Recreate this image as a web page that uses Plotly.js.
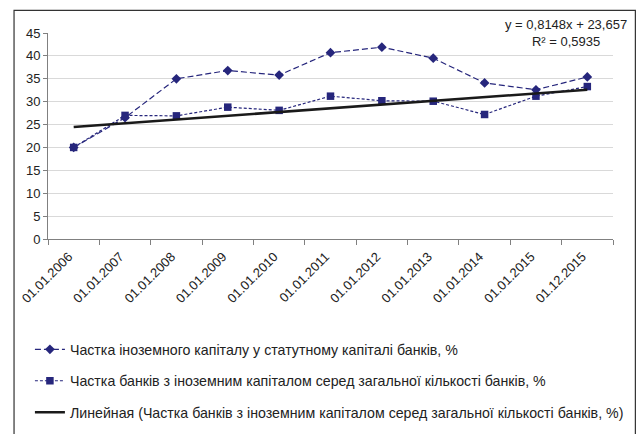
<!DOCTYPE html>
<html>
<head>
<meta charset="utf-8">
<script src="https://cdn.plot.ly/plotly-3.0.1.min.js"></script>
<style>html,body{margin:0;padding:0;background:#fff;}#chart{width:642px;height:434px;}</style>
</head>
<body>
<div id="chart"></div>
<script>
const categories = ["01.01.2006","01.01.2007","01.01.2008","01.01.2009","01.01.2010","01.01.2011","01.01.2012","01.01.2013","01.01.2014","01.01.2015","01.12.2015"];
const foreignCapitalShare = [20.0, 26.5, 35.0, 36.8, 35.8, 40.7, 41.9, 39.5, 34.1, 32.6, 35.4];
const foreignBanksShare = [20.0, 27.0, 26.9, 28.8, 28.1, 31.2, 30.2, 30.1, 27.2, 31.2, 33.3];
const trendSlope = 0.8148;
const trendIntercept = 23.657;
const trendR2 = 0.5935;
const seriesNames = [
  "Частка іноземного капіталу у статутному капіталі банків, %",
  "Частка банків з іноземним капіталом серед загальної кількості банків, %",
  "Линейная (Частка банків з іноземним капіталом серед загальної кількості банків, %)"
];

const trendX = [categories[0], categories[categories.length-1]];
const trendY = [trendIntercept + trendSlope*1, trendIntercept + trendSlope*categories.length];
const fmt = (v, d) => v.toFixed(d).replace('.', ',');

const navy = '#26267c';
const traces = [
  {x: categories, y: foreignCapitalShare, name: seriesNames[0], type: 'scatter', mode: 'lines+markers',
   legendgroup: 'a',
   line: {color: navy, width: 1.2, dash: '6px,3px'},
   marker: {symbol: 'diamond', size: 7.5, color: navy}},
  {x: categories, y: foreignBanksShare, name: seriesNames[1], type: 'scatter', mode: 'lines+markers',
   legendgroup: 'b',
   line: {color: navy, width: 1.2, dash: '3px,2px'},
   marker: {symbol: 'square', size: 7.5, color: navy}},
  {x: trendX, y: trendY, name: seriesNames[2], type: 'scatter', mode: 'lines',
   legendgroup: 'c',
   line: {color: '#1a1a1a', width: 2.5}}
];

const layout = {
  width: 642, height: 434,
  margin: {l: 48, r: 29, t: 33, b: 195, autoexpand: false},
  paper_bgcolor: '#fff', plot_bgcolor: '#fff',
  font: {family: 'Liberation Sans, Arial, sans-serif', size: 13, color: '#222'},
  xaxis: {type: 'category', tickson: 'boundaries', ticks: 'outside', ticklen: 5, tickcolor: '#808080',
    showline: true, linecolor: '#808080', linewidth: 1, showgrid: false, tickangle: -45,
    ticklabelshift: -5, ticklabelstandoff: 4,
    tickfont: {size: 13, color: '#222'}, range: [-0.5, categories.length - 0.5], zeroline: false},
  yaxis: {range: [0, 45], dtick: 5, ticks: 'outside', ticklen: 4, tickcolor: '#808080',
    showline: true, linecolor: '#808080', linewidth: 1, gridcolor: '#d9d9d9', gridwidth: 1,
    zeroline: false, tickfont: {size: 13, color: '#222'}},
  showlegend: true,
  legend: {x: -0.032, y: -0.459, xanchor: 'left', yanchor: 'top', orientation: 'v',
    tracegroupgap: 10, font: {size: 14.2, color: '#222', family: 'Liberation Sans, Arial, sans-serif'},
    bgcolor: 'rgba(0,0,0,0)'},
  annotations: [{
    xref: 'paper', yref: 'paper', x: 0.9176, y: 1.0, xanchor: 'center', yanchor: 'middle',
    text: 'y = ' + fmt(trendSlope, 4) + 'x + ' + fmt(trendIntercept, 3) + '<br>R² = ' + fmt(trendR2, 4),
    showarrow: false, align: 'center', font: {size: 13, color: '#222'}
  }],
  shapes: [{type: 'rect', xref: 'paper', yref: 'paper', x0: -0.0601, x1: 1.0396, y0: -1.3, y1: 1.110,
    line: {color: '#333', width: 1.2}, fillcolor: 'rgba(0,0,0,0)', layer: 'below'}]
};

Plotly.newPlot('chart', traces, layout, {displayModeBar: false, staticPlot: true});
</script>
</body>
</html>
